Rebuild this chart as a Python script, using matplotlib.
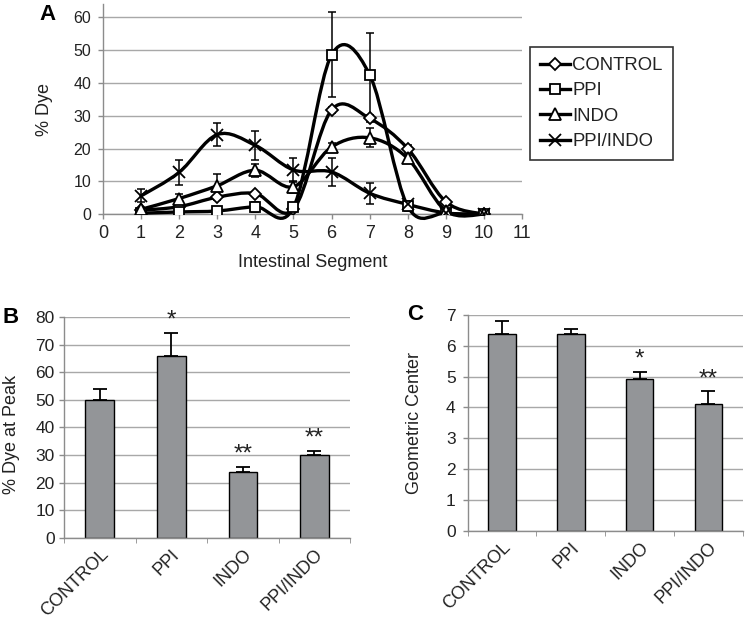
import matplotlib
matplotlib.use("Agg")
import matplotlib.pyplot as plt
from matplotlib.path import Path
from matplotlib.patches import PathPatch
from matplotlib.lines import Line2D
import numpy as np

plt.rcParams["font.family"] = ["Liberation Sans", "DejaVu Sans"]

# ---- panel A: % dye per intestinal segment ----
segments = [1, 2, 3, 4, 5, 6, 7, 8, 9, 10]
control = [1.2, 2.3, 5.2, 6.3, 1.5, 31.8, 29.2, 20.0, 3.8, 0.0]
control_err = [0.5, 0.8, 0.8, 0.6, 0.8, 1.0, 1.0, 1.2, 0.6, 0.0]
ppi = [0.3, 0.7, 1.0, 2.3, 2.1, 48.6, 42.5, 2.4, 0.3, 0.0]
ppi_err = [0.3, 0.4, 0.6, 1.5, 0.8, 13.0, 12.8, 1.5, 0.2, 0.0]
indo = [1.5, 4.8, 8.7, 13.4, 8.4, 20.5, 23.3, 17.0, 1.0, 0.0]
indo_err = [0.5, 1.5, 3.6, 2.0, 1.8, 1.3, 2.9, 1.0, 0.4, 0.0]
ppi_indo = [5.6, 12.8, 24.3, 21.0, 13.5, 12.9, 6.4, 3.0, 0.4, 0.0]
ppi_indo_err = [2.0, 3.8, 3.5, 4.4, 3.8, 4.3, 3.2, 0.8, 0.3, 0.0]

# ---- panels B and C ----
groups = ["CONTROL", "PPI", "INDO", "PPI/INDO"]
peak = [49.8, 65.8, 24.0, 30.0]
peak_err = [4.0, 8.6, 1.7, 1.6]
peak_sig = ["", "*", "**", "**"]
geo_center = [6.4, 6.38, 4.92, 4.1]
geo_center_err = [0.42, 0.17, 0.23, 0.42]
geo_sig = ["", "", "*", "**"]

AXIS_GRAY = "#8c8c8c"
GRID_GRAY = "#a8a8a8"
TEXT = "#222222"
BAR_GRAY = "#939598"


def smooth_path(x, y):
    """Excel-style smoothed line: cubic Bezier through every point."""
    n = len(x)
    verts = [(x[0], y[0])]
    codes = [Path.MOVETO]
    for i in range(n - 1):
        x0, y0 = (x[i - 1], y[i - 1]) if i > 0 else (x[i], y[i])
        x3, y3 = (x[i + 2], y[i + 2]) if i + 2 < n else (x[i + 1], y[i + 1])
        c1 = (x[i] + (x[i + 1] - x0) / 6, y[i] + (y[i + 1] - y0) / 6)
        c2 = (x[i + 1] - (x3 - x[i]) / 6, y[i + 1] - (y3 - y[i]) / 6)
        verts += [c1, c2, (x[i + 1], y[i + 1])]
        codes += [Path.CURVE4] * 3
    return Path(verts, codes)


def style_axes(ax):
    for side in ("top", "right"):
        ax.spines[side].set_visible(False)
    for side in ("left", "bottom"):
        ax.spines[side].set_color(AXIS_GRAY)
        ax.spines[side].set_linewidth(1.0)
    ax.yaxis.grid(True, color=GRID_GRAY, linewidth=1.0)
    ax.set_axisbelow(True)
    ax.tick_params(direction="out", length=3.6, width=1.0, color=AXIS_GRAY,
                   labelcolor=TEXT)


fig = plt.figure(figsize=(7.47, 6.21), dpi=100)

# ---------------- A ----------------
axA = fig.add_axes([0.1379, 0.655, 0.561, 0.338])
style_axes(axA)
series = [
    ("CONTROL", control, control_err, "D", 6.0),
    ("PPI", ppi, ppi_err, "s", 7.5),
    ("INDO", indo, indo_err, "^", 8.0),
    ("PPI/INDO", ppi_indo, ppi_indo_err, "x", 9.0),
]
handles = []
for name, vals, err, mk, ms in series:
    axA.errorbar(segments, vals, yerr=err, fmt="none", ecolor="black",
                 elinewidth=1.1, capsize=3.0, capthick=1.1, zorder=2)
    axA.add_patch(PathPatch(smooth_path(segments, vals), fill=False, ec="black",
                            lw=2.4, joinstyle="round", capstyle="round",
                            zorder=3, clip_on=False))
    axA.plot(segments, vals, ls="none", marker=mk, ms=ms, mfc="white",
             mec="black", mew=1.3, zorder=4)
    handles.append(Line2D([], [], color="black", lw=2.4, marker=mk, ms=ms,
                          mfc="white", mec="black", mew=1.3, label=name))

axA.set_xlim(0, 11)
axA.set_ylim(0, 64)
axA.set_xticks(range(0, 12))
axA.set_yticks(range(0, 61, 10))
axA.tick_params(axis="x", labelsize=13, pad=4)
axA.tick_params(axis="y", labelsize=11.5, pad=5)
axA.set_xlabel("Intestinal Segment", fontsize=13, color=TEXT)
axA.set_ylabel("% Dye", fontsize=13, color=TEXT)
axA.xaxis.set_label_coords(0.5, -0.19)
axA.yaxis.set_label_coords(-0.119, 0.5)

leg = fig.legend(handles=handles, loc="upper left",
                 bbox_to_anchor=(530 / 747, 1 - 47 / 621), fontsize=13.3,
                 frameon=True, fancybox=False, handlelength=1.6,
                 handletextpad=0.15, borderpad=0.55, labelspacing=0.45,
                 borderaxespad=0)
leg.get_frame().set_edgecolor("black")
leg.get_frame().set_linewidth(1.2)
for t in leg.get_texts():
    t.set_color(TEXT)


def bar_panel(ax, vals, errs, sig, ylim, yticks, ylabel, ypad):
    style_axes(ax)
    x = np.arange(len(groups))
    ax.bar(x, vals, width=0.4, color=BAR_GRAY, edgecolor="black",
           linewidth=1.0, zorder=2)
    ax.errorbar(x, vals, yerr=[np.zeros(len(vals)), errs], fmt="none",
                ecolor="black", elinewidth=1.3, capsize=5, capthick=1.3,
                zorder=3)
    for xi, v, e, s in zip(x, vals, errs, sig):
        if s:
            ax.annotate(s, (xi, v + e), xytext=(0, 1), textcoords="offset points",
                        ha="center", va="bottom", fontsize=17.5, color=TEXT)
    ax.set_xlim(-0.5, len(groups) - 0.5)
    ax.set_ylim(*ylim)
    ax.set_yticks(yticks)
    ax.set_xticks(x)
    ax.set_xticks(np.arange(-0.5, len(groups)), minor=True)
    ax.tick_params(axis="x", which="major", length=0, pad=6, labelsize=13)
    ax.tick_params(axis="x", which="minor", direction="out", length=3.6,
                   color=AXIS_GRAY)
    ax.tick_params(axis="y", labelsize=12.5, pad=ypad)
    ax.set_xticklabels(groups, rotation=45, ha="right", va="top",
                       rotation_mode="anchor")
    ax.set_ylabel(ylabel, fontsize=13, color=TEXT)


axB = fig.add_axes([0.0857, 0.1341, 0.383, 0.355])
bar_panel(axB, peak, peak_err, peak_sig, (0, 80), range(0, 81, 10),
          "% Dye at Peak", 3)
axB.yaxis.set_label_coords(-0.154, 0.47)

axC = fig.add_axes([0.626, 0.1454, 0.3685, 0.3473])
bar_panel(axC, geo_center, geo_center_err, geo_sig, (0, 7), range(0, 8),
          "Geometric Center", 5)
axC.yaxis.set_label_coords(-0.162, 0.5)

# panel letters
fig.text(47.5 / 747, 1 - 14.5 / 621, "A", fontsize=16, fontweight="bold",
         ha="center", va="center")
fig.text(10.5 / 747, 1 - 317 / 621, "B", fontsize=16, fontweight="bold",
         ha="center", va="center")
fig.text(415 / 747, 1 - 314.5 / 621, "C", fontsize=16, fontweight="bold",
         ha="center", va="center")

fig.savefig("out.png", dpi=100)
